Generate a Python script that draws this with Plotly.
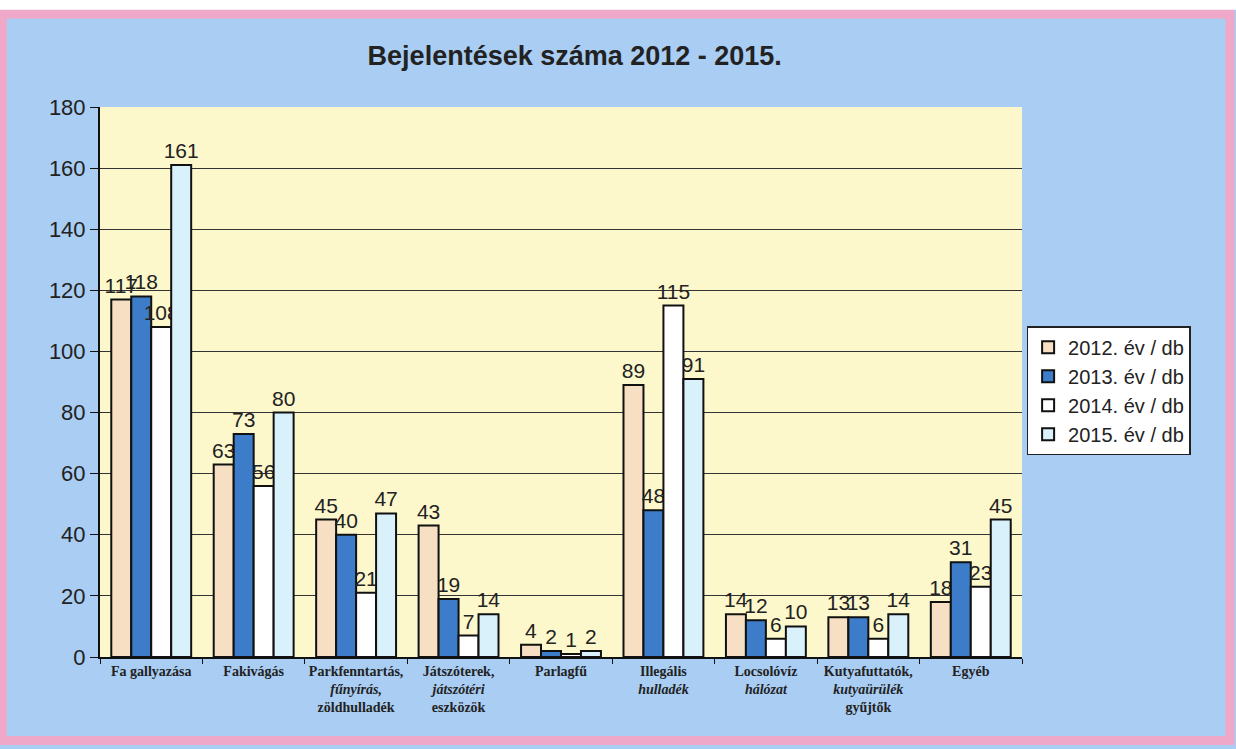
import plotly.graph_objects as go

# adatok
kategoriak = [
    '<b>Fa gallyazása</b>',
    '<b>Fakivágás</b>',
    '<b>Parkfenntartás,<br><i>fűnyírás,</i><br>zöldhulladék</b>',
    '<b>Játszóterek,<br><i>játszótéri</i><br>eszközök</b>',
    '<b>Parlagfű</b>',
    '<b>Illegális<br><i>hulladék</i></b>',
    '<b>Locsolóvíz<br><i>hálózat</i></b>',
    '<b>Kutyafuttatók,<br><i>kutyaürülék</i><br>gyűjtők</b>',
    '<b>Egyéb</b>',
]
ev_2012 = [117, 63, 45, 43, 4, 89, 14, 13, 18]
ev_2013 = [118, 73, 40, 19, 2, 48, 12, 13, 31]
ev_2014 = [108, 56, 21, 7, 1, 115, 6, 6, 23]
ev_2015 = [161, 80, 47, 14, 2, 91, 10, 14, 45]
sorozatok = [
    ('2012. év / db', ev_2012, '#f6dfc2'),
    ('2013. év / db', ev_2013, '#3d7cc9'),
    ('2014. év / db', ev_2014, '#ffffff'),
    ('2015. év / db', ev_2015, '#d9f1fb'),
]

fig = go.Figure()
for nev, ertekek, szin in sorozatok:
    fig.add_trace(go.Bar(
        name=nev, x=kategoriak, y=ertekek,
        marker=dict(color=szin, line=dict(color='#111111', width=2)),
        text=ertekek, textposition='outside', constraintext='none',
        cliponaxis=False,
        textfont=dict(family='Arial, Liberation Sans', size=21, color='#222222'),
    ))

fig.update_layout(
    width=1236, height=749,
    barmode='group', bargap=0.22, bargroupgap=0,
    paper_bgcolor='#a9cdf3', plot_bgcolor='#fcf8cc',
    margin=dict(l=100, r=214, t=107, b=92),
    title=dict(text='<b>Bejelentések száma 2012 - 2015.</b>', x=0.465, xanchor='center',
               y=0.926, yanchor='middle',
               font=dict(family='Arial, Liberation Sans', size=27, color='#222222')),
    legend=dict(x=1.005, y=0.484, xanchor='left', yanchor='middle',
                bgcolor='white', bordercolor='#222222', borderwidth=1.5,
                font=dict(family='Arial, Liberation Sans', size=20, color='#222222'),
                itemwidth=30, tracegroupgap=0),
    showlegend=True,
)
fig.update_yaxes(range=[0, 180], dtick=20, showgrid=True, gridcolor='#333333', gridwidth=1,
                 showline=True, linecolor='#111111', linewidth=2, ticks='outside',
                 ticklen=8, tickcolor='#111111',
                 tickfont=dict(family='Arial, Liberation Sans', size=22, color='#222222'),
                 zeroline=False)
fig.update_xaxes(showline=True, linecolor='#111111', linewidth=2, ticks='outside',
                 tickson='boundaries', ticklen=5, tickcolor='#111111', tickangle=0,
                 tickfont=dict(family='Liberation Serif, Times New Roman', size=14, color='#222222'))

# rózsaszín keret
fig.add_shape(type='rect', xref='paper', yref='paper', x0=-0.106, x1=1.2256, y0=-0.152, y1=1.169,
              line=dict(color='#f0a8c8', width=9), fillcolor='rgba(0,0,0,0)', layer='above')
fig.add_shape(type='rect', xref='paper', yref='paper', x0=-0.2, x1=1.3, y0=1.177, y1=1.3,
              line=dict(width=0), fillcolor='white', layer='above')

fig.write_html('out.html', config={'displayModeBar': False},
               post_script="document.body.style.margin='0';")
